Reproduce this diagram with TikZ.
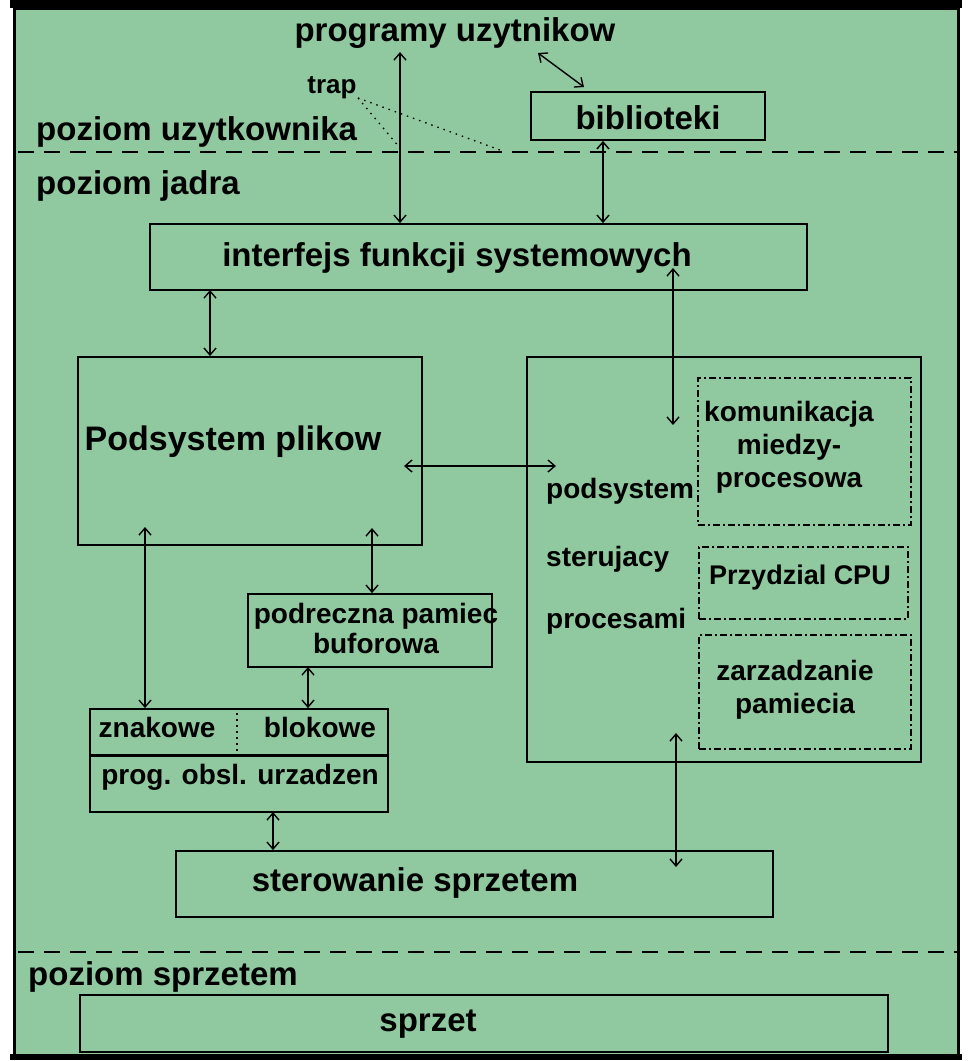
\documentclass[tikz,border=0pt]{standalone}
\usepackage{fontspec}
\setmainfont{Liberation Sans}
\usetikzlibrary{arrows.meta}
\definecolor{bg}{RGB}{144,201,160}
\begin{document}
\begin{tikzpicture}[x=1pt,y=-1pt,
  box/.style={draw=black,line width=1.8pt,rectangle,inner sep=0pt,anchor=center},
  dbox/.style={box,line width=1.3pt,dash pattern=on 7pt off 3pt on 2pt off 3pt},
  big/.style={font=\fontsize{33}{38}\selectfont\bfseries,inner sep=0pt},
  small/.style={font=\fontsize{28}{33}\selectfont\bfseries,inner sep=0pt},
  conn/.style={line width=1.4pt,{Straight Barb[length=7pt,width=12pt]}-{Straight Barb[length=7pt,width=12pt]}},
  level/.style={line width=2.5pt,dash pattern=on 16pt off 10pt},
  trapline/.style={line width=1.3pt,dash pattern=on 1.5pt off 5pt}
]
% page and frame
\fill[white] (0,0) rectangle (970,1061);
\useasboundingbox (0,0) rectangle (970,1061);
\fill[bg] (14,8) rectangle (958,1055);
\draw[line width=3pt] (14,8) rectangle (958,1055);
\draw[line width=8pt] (10,4) -- (962,4);
\draw[line width=6pt] (10,1057) -- (962,1057);

% level separators
\draw[level] (18,152) -- (958,152);
\draw[level] (18,952) -- (958,952);

% level labels
\node[big,anchor=west] (lvuser) at (36,132) {poziom uzytkownika};
\node[big,anchor=west] (lvkern) at (36,186) {poziom jadra};
\node[big,anchor=west] (lvhw) at (28,977) {poziom sprzetem};

% top texts
\node[big] (prog) at (455,33) {programy uzytnikow};
\node[small,font=\fontsize{26}{30}\selectfont\bfseries] (trap) at (332,88) {trap};

% boxes
\node[box,minimum width=234pt,minimum height=48pt] (bibl) at (648,116) {};
\node[big] at (648,118) {biblioteki};

\node[box,minimum width=657pt,minimum height=66pt] (ifs) at (478.5,257) {};
\node[big] at (457,258) {interfejs funkcji systemowych};

\node[box,minimum width=344pt,minimum height=188pt] (files) at (250,451) {};
\node[big,font=\fontsize{34}{38}\selectfont\bfseries] at (233,442) {Podsystem plikow};

\node[box,minimum width=394pt,minimum height=405pt] (proc) at (724,559.5) {};
\node[small,anchor=west] (ps1) at (546,491) {podsystem};
\node[small,anchor=west] (ps2) at (546,559) {sterujacy};
\node[small,anchor=west] (ps3) at (546,621) {procesami};

\node[dbox,minimum width=213pt,minimum height=147pt] (ipc) at (804.5,451.5) {};
\node[small,align=center] at (789,447) {komunikacja\\miedzy-\\procesowa};

\node[dbox,minimum width=209pt,minimum height=72pt] (cpu) at (803.5,583) {};
\node[small,font=\fontsize{27}{32}\selectfont\bfseries] at (800,578) {Przydzial CPU};

\node[dbox,minimum width=212pt,minimum height=114pt] (mem) at (805,692) {};
\node[small,align=center] at (795,690) {zarzadzanie\\pamiecia};

\node[box,minimum width=244pt,minimum height=73pt] (buf) at (370,630.5) {};
\node[small,align=center,font=\fontsize{28}{30}\selectfont\bfseries] at (376,628) {podreczna pamiec\\buforowa};

\node[box,minimum width=298pt,minimum height=103pt] (dev) at (239,760.5) {};
\draw[line width=3.5pt] (dev.west |- 0,755.5) -- (dev.east |- 0,755.5);
\draw[trapline,line width=1.5pt,dash pattern=on 2pt off 4pt] (237,713) -- (237,751);
\node[small] at (157,727) {znakowe};
\node[small] at (320,727) {blokowe};
\node[small] at (240,777) {prog. obsl. urzadzen};

\node[box,minimum width=597pt,minimum height=66pt] (hwc) at (474.5,884) {};
\node[big] at (415,883) {sterowanie sprzetem};

\node[box,minimum width=808pt,minimum height=57pt] (hw) at (484,1023.5) {};
\node[big] at (428,1024) {sprzet};

% connectors
\coordinate (p1) at (400,52);
\draw[conn] (p1) -- (p1 |- ifs.north);
\coordinate (p2) at (538,53);
\coordinate (b2) at (584,87);
\draw[conn] (p2) -- (b2);
\draw[conn] ([xshift=-45pt]bibl.south) -- ([xshift=-45pt]bibl.south |- ifs.north);
\coordinate (i4) at (210,290);
\draw[conn] (i4) -- (i4 |- files.north);
\coordinate (i5a) at (673,268);
\coordinate (i5b) at (673,425);
\draw[conn] (i5a) -- (i5b);
\coordinate (f6a) at (404,466);
\coordinate (f6b) at (556,466);
\draw[conn] (f6a) -- (f6b);
\coordinate (f7) at (145,527);
\draw[conn] (f7) -- (f7 |- dev.north);
\coordinate (f8) at (372,528);
\draw[conn] (f8) -- (f8 |- buf.north);
\coordinate (b9) at (308,667);
\draw[conn] (b9) -- (b9 |- dev.north);
\coordinate (d10) at (273,812);
\draw[conn] (d10) -- (d10 |- hwc.north);
\coordinate (p11a) at (676,733);
\coordinate (p11b) at (676,867);
\draw[conn] (p11a) -- (p11b);

% trap dotted lines
\coordinate (t0) at (358,98);
\coordinate (t1) at (400,148);
\coordinate (t2) at (500,150);
\draw[trapline] (t0) -- (t1);
\draw[trapline] (t0) -- (t2);
\end{tikzpicture}
\end{document}
